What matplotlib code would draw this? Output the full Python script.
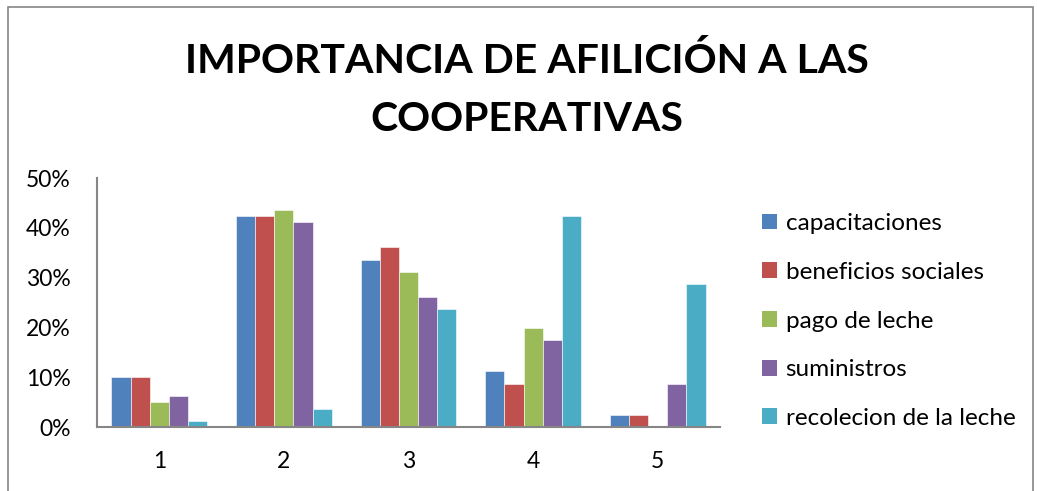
import numpy as np
import matplotlib
matplotlib.use("Agg")
from matplotlib import pyplot as plt
from matplotlib.patches import Patch, Rectangle

# data
categories = ['1', '2', '3', '4', '5']
series_names = ['capacitaciones', 'beneficios sociales', 'pago de leche',
                'suministros', 'recolecion de la leche']
capacitaciones = [10.0, 42.4, 33.6, 11.2, 2.5]
beneficios = [10.0, 42.4, 36.1, 8.7, 2.5]
pago_leche = [5.0, 43.5, 31.1, 19.9, 0.0]
suministros = [6.2, 41.1, 26.2, 17.4, 8.7]
recoleccion = [1.3, 3.7, 23.6, 42.4, 28.7]
yticks = [0, 10, 20, 30, 40, 50]
colors = ['#4F81BD', '#C0504D', '#9BBB59', '#8064A2', '#4BACC6']

plt.rcParams['font.family'] = ['Lato', 'DejaVu Sans']

fig = plt.figure(figsize=(10.37, 4.91), dpi=100)
ax = fig.add_axes([97 / 1037, 1 - 427 / 491, 623 / 1037, 249 / 491])

values = [capacitaciones, beneficios, pago_leche, suministros, recoleccion]
x = np.arange(len(categories))
w = 0.154
for i, (vals, name) in enumerate(zip(values, series_names)):
    ax.bar(x + (i - 2) * w, vals, width=w, color=colors[i],
           edgecolor='white', linewidth=0.4, label=name)

ax.set_xlim(-0.5, 4.5)
ax.set_ylim(0, 50)
ax.set_yticks(yticks)
ax.set_yticklabels(['%d%%' % v for v in yticks])
ax.set_xticks(x)
ax.set_xticklabels(categories)
ax.tick_params(axis='both', length=0, labelsize=16.5, colors='black')
ax.tick_params(axis='y', pad=19)
ax.tick_params(axis='x', pad=17)
for s in ['top', 'right']:
    ax.spines[s].set_visible(False)
for s in ['left', 'bottom']:
    ax.spines[s].set_color('#868686')
    ax.spines[s].set_linewidth(1.5)

handles = [Patch(facecolor=c, edgecolor='none') for c in colors]
fig.legend(handles, series_names, loc='center left',
           bbox_to_anchor=(762 / 1037, 1 - 321 / 491), frameon=False,
           fontsize=17.5, handlelength=0.62, handleheight=0.62,
           handletextpad=0.35, labelspacing=1.14, borderpad=0, borderaxespad=0)

fig.text(0.508, 1 - 73 / 491, 'IMPORTANCIA DE AFILICIÓN A LAS',
         ha='center', va='baseline', fontsize=29.5, fontweight='bold')
fig.text(0.508, 1 - 131 / 491, 'COOPERATIVAS',
         ha='center', va='baseline', fontsize=29.5, fontweight='bold')

# outer chart border
fig.patches.append(Rectangle((8 / 1037, -0.05), 1025 / 1037, 1 - 7 / 491 + 0.05,
                             transform=fig.transFigure, fill=False,
                             edgecolor='#868686', linewidth=1.2))

fig.savefig('out.png', dpi=100)
